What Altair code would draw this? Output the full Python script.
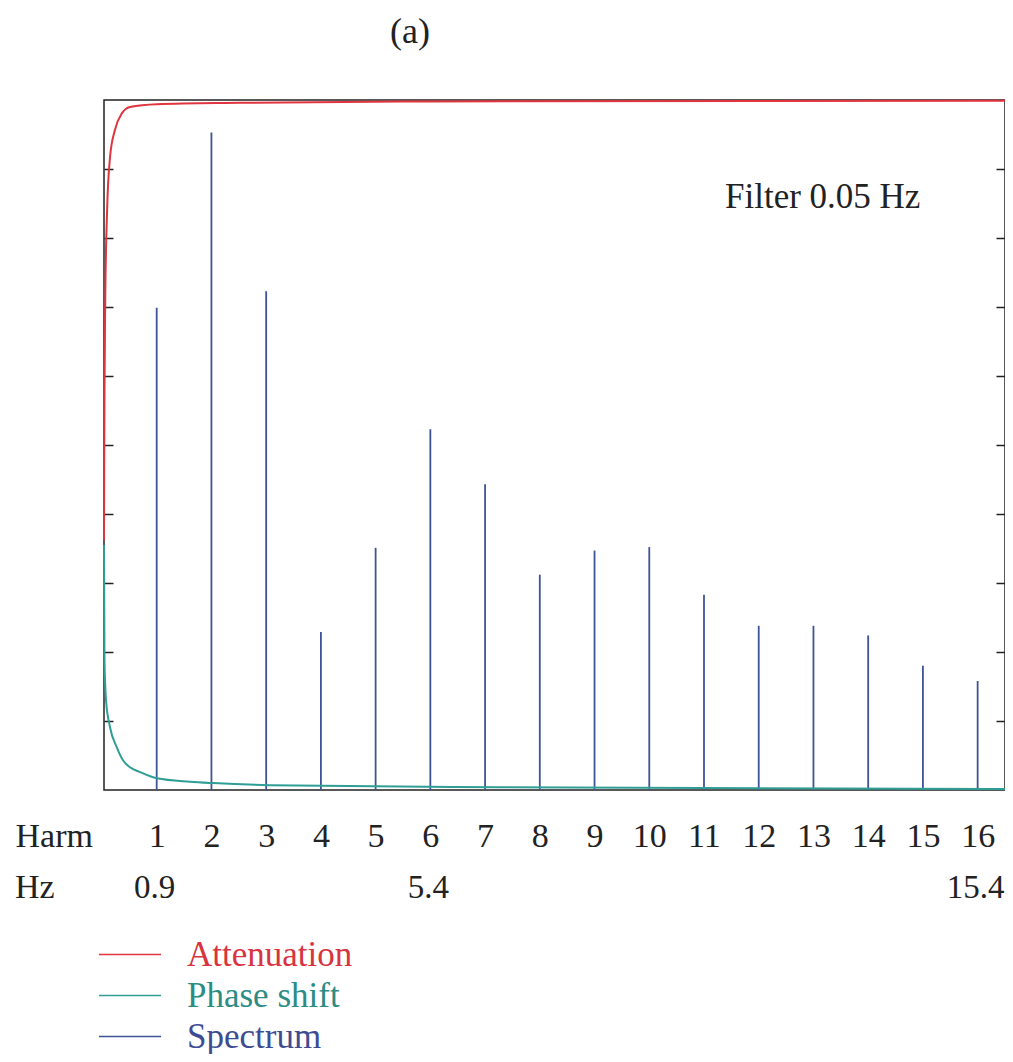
import altair as alt
import pandas as pd

# ---- data ----
harmonics = list(range(1, 17))
spectrum = [0.699, 0.953, 0.723, 0.229, 0.351, 0.523, 0.443, 0.312,
            0.347, 0.352, 0.283, 0.238, 0.238, 0.224, 0.180, 0.158]

att_x = [0.037, 0.045, 0.060, 0.092, 0.147, 0.238, 0.366, 0.512, 1.005, 2.52, 6.0, 16.5]
att_y = [0.362, 0.565, 0.710, 0.836, 0.917, 0.957, 0.981, 0.990, 0.994, 0.996, 0.998, 0.999]

ph_x = [0.037, 0.046, 0.074, 0.147, 0.269, 0.384, 0.512, 0.695, 1.005, 1.608,
        2.028, 3.07, 7.27, 16.5]
ph_y = [0.355, 0.188, 0.130, 0.091, 0.062, 0.043, 0.033, 0.026, 0.017, 0.012,
        0.010, 0.007, 0.004, 0.0015]

hz_pos = [1, 6, 16]
hz_labels = ["0.9", "5.4", "15.4"]

series = ["Attenuation", "Phase shift", "Spectrum"]
line_colors = ["#e0343f", "#2f9e95", "#3d5596"]
ytick_values = [0.1, 0.2, 0.3, 0.4, 0.5, 0.6, 0.7, 0.8, 0.9]

FONT = "Liberation Serif"
FS = 34

spec_df = pd.DataFrame({"h": harmonics, "v": spectrum, "series": "Spectrum"})
att_df = pd.DataFrame({"h": att_x, "v": att_y, "series": "Attenuation"})
ph_df = pd.DataFrame({"h": ph_x, "v": ph_y, "series": "Phase shift"})
hz_df = pd.DataFrame({"h": hz_pos, "t": hz_labels})

xscale = alt.Scale(domain=[0.037, 16.5], nice=False, zero=False)
yscale = alt.Scale(domain=[0, 1], nice=False)
cscale = alt.Scale(domain=series, range=line_colors)

legend = alt.Legend(
    title=None, orient="none", legendX=-6, legendY=834,
    symbolType="stroke", symbolSize=3844, symbolStrokeWidth=1.6,
    labelFont=FONT, labelFontSize=35, labelOffset=25, labelLimit=500,
    clipHeight=41, rowPadding=0, padding=0,
    labelColor={"expr": "datum.label == 'Attenuation' ? '#d8343f' : datum.label == 'Phase shift' ? '#2b8c85' : '#3d4c92'"},
)

x_axis = alt.Axis(
    values=harmonics, domain=False, ticks=False, tickSize=0, grid=False,
    labelFont=FONT, labelFontSize=FS, labelColor="#222", labelPadding=46,
    labelBaseline="middle", labelFlush=False,
    title="Harm", titleFont=FONT, titleFontSize=FS, titleFontWeight="normal",
    titleColor="#222", titleAlign="left", titleAnchor="start",
    titleX=-89, titleY=46, titleBaseline="middle",
)

y_left = alt.Axis(orient="left", values=ytick_values, offset=-9, tickSize=9,
                  tickWidth=1.5, tickColor="#222", domain=False, labels=False,
                  grid=False, title=None)
y_right = alt.Axis(orient="right", values=ytick_values, offset=-9, tickSize=9,
                   tickWidth=1.5, tickColor="#222", domain=False, labels=False,
                   grid=False, title=None)

spec = alt.Chart(spec_df).mark_rule(strokeWidth=1.8).encode(
    x=alt.X("h:Q", scale=xscale, axis=x_axis),
    y=alt.Y("v:Q", scale=yscale, axis=y_left),
    y2=alt.datum(0),
    color=alt.Color("series:N", scale=cscale, legend=legend),
)

ph = alt.Chart(ph_df).mark_line(strokeWidth=2, interpolate="monotone").encode(
    x=alt.X("h:Q", scale=xscale, axis=x_axis),
    y=alt.Y("v:Q", scale=yscale, axis=None),
    color=alt.Color("series:N", scale=cscale, legend=legend),
)

att = alt.Chart(att_df).mark_line(strokeWidth=2, interpolate="monotone").encode(
    x=alt.X("h:Q", scale=xscale, axis=x_axis),
    y=alt.Y("v:Q", scale=yscale, axis=y_right),
    color=alt.Color("series:N", scale=cscale, legend=legend),
)

hz = alt.Chart(hz_df).mark_text(font=FONT, fontSize=33, color="#222", dx=-2,
                                baseline="middle", align="center").encode(
    x=alt.X("h:Q", scale=xscale, axis=x_axis),
    y=alt.value(788),
    text="t:N",
)

hz_title = alt.Chart(pd.DataFrame({"t": ["Hz"]})).mark_text(
    font=FONT, fontSize=FS, color="#222", baseline="middle", align="left"
).encode(x=alt.value(-89), y=alt.value(788), text="t:N")

filt = alt.Chart(pd.DataFrame({"t": ["Filter 0.05 Hz"]})).mark_text(
    font=FONT, fontSize=35, color="#222", baseline="middle", align="left"
).encode(x=alt.value(621), y=alt.value(97), text="t:N")

panel = alt.Chart(pd.DataFrame({"t": ["(a)"]})).mark_text(
    font=FONT, fontSize=36, color="#222", baseline="middle", align="center"
).encode(x=alt.value(306), y=alt.value(-68), text="t:N")

chart = alt.layer(spec, ph, att, hz, hz_title, filt, panel).resolve_axis(
    y="independent"
).properties(
    width=901, height=690,
    background="white",
    autosize=alt.AutoSizeParams(type="none"),
    padding={"left": 96, "top": 92, "right": 0, "bottom": 264},
).configure_view(
    stroke="#222", strokeWidth=1.5
)

chart.save("out.html", embed_options={"renderer": "svg", "actions": False})
